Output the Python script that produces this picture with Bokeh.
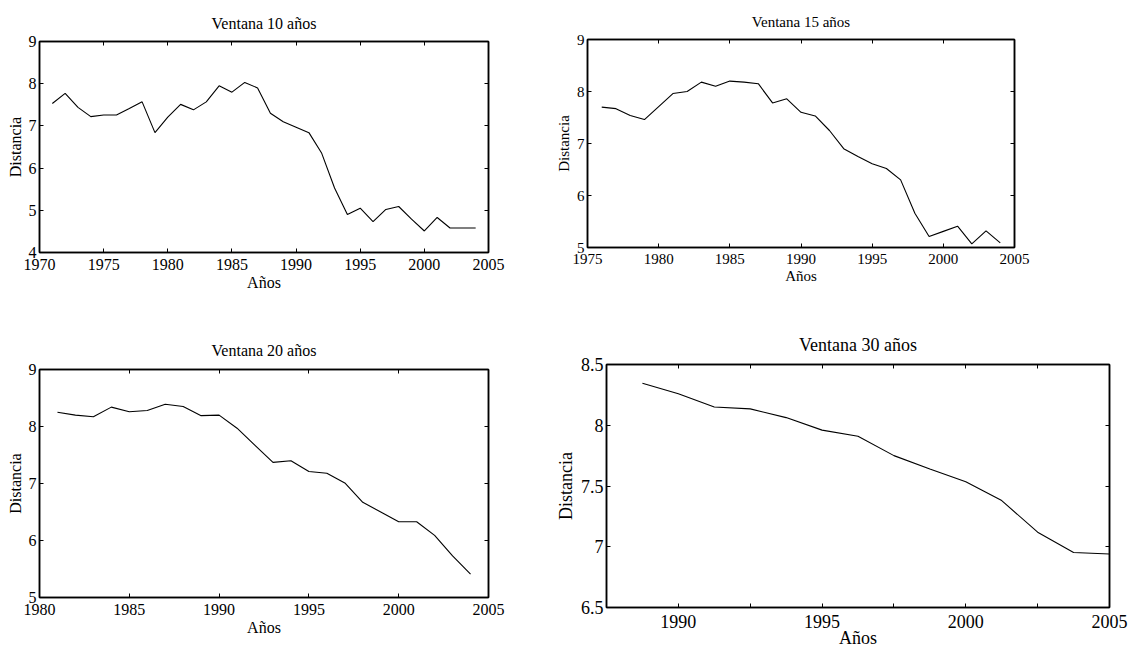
from bokeh.plotting import figure
from bokeh.models import Range1d, FixedTicker, LinearAxis, CustomJSTickFormatter
from bokeh.layouts import column, row
from bokeh.embed import file_html
from bokeh.resources import INLINE

# ---- data ----
years10 = list(range(1971, 2005))
dist10 = [7.53, 7.77, 7.44, 7.22, 7.26, 7.26, 7.41, 7.57, 6.84, 7.21, 7.51, 7.38,
          7.57, 7.95, 7.80, 8.03, 7.90, 7.30, 7.10, 6.97, 6.84, 6.35, 5.53, 4.90,
          5.05, 4.73, 5.02, 5.09, 4.79, 4.51, 4.83, 4.58, 4.58, 4.58]

years15 = list(range(1976, 2005))
dist15 = [7.70, 7.67, 7.54, 7.46, 7.71, 7.96, 8.00, 8.18, 8.10, 8.20, 8.18, 8.15,
          7.78, 7.86, 7.60, 7.53, 7.25, 6.90, 6.75, 6.61, 6.52, 6.30, 5.66, 5.21,
          5.31, 5.41, 5.07, 5.32, 5.09]

years20 = list(range(1981, 2005))
dist20 = [8.25, 8.20, 8.17, 8.34, 8.26, 8.28, 8.39, 8.35, 8.19, 8.20, 7.97, 7.67,
          7.37, 7.40, 7.21, 7.18, 7.01, 6.67, 6.50, 6.33, 6.33, 6.09, 5.73, 5.41]

years30 = [1988.75, 1990, 1991.25, 1992.5, 1993.75, 1995, 1996.25, 1997.5,
           1998.75, 2000, 2001.25, 2002.5, 2003.75, 2005]
dist30 = [8.345, 8.26, 8.15, 8.135, 8.063, 7.96, 7.91, 7.75, 7.64, 7.535,
          7.38, 7.12, 6.953, 6.94]

titles = ["Ventana 10 años", "Ventana 15 años", "Ventana 20 años", "Ventana 30 años"]
xlabel = "Años"
ylabel = "Distancia"

xt1 = [1970, 1975, 1980, 1985, 1990, 1995, 2000, 2005]
yt1 = [4, 5, 6, 7, 8, 9]
xt2 = [1975, 1980, 1985, 1990, 1995, 2000, 2005]
yt2 = [5, 6, 7, 8, 9]
xt3 = [1980, 1985, 1990, 1995, 2000, 2005]
yt3 = [5, 6, 7, 8, 9]
xt4 = [1990, 1995, 2000, 2005]
xt4_minor = [1987.5, 1992.5, 1997.5, 2002.5]
yt4 = [6.5, 7, 7.5, 8, 8.5]

FONT = "Liberation Serif"
fmt_code = "return String(Number(tick.toFixed(2)));"


def style_axis(ax, fs, show_labels=True, mstand=5, astand=0):
    ax.axis_line_color = "black"
    ax.axis_line_width = 1.5
    ax.major_tick_in = 4
    ax.major_tick_out = 0
    ax.minor_tick_in = 4
    ax.minor_tick_out = 0
    ax.major_tick_line_color = "black"
    ax.minor_tick_line_color = "black"
    ax.major_tick_line_width = 1
    ax.minor_tick_line_width = 1
    ax.major_label_text_font = FONT
    ax.major_label_text_font_style = "normal"
    ax.major_label_text_color = "black"
    ax.axis_label_text_font = FONT
    ax.axis_label_text_font_style = "normal"
    ax.axis_label_text_color = "black"
    ax.axis_label_text_font_size = f"{fs}px"
    if show_labels:
        ax.major_label_text_font_size = f"{fs}px"
        ax.major_label_standoff = mstand
        ax.axis_label_standoff = astand
    else:
        ax.major_label_text_font_size = "0px"
        ax.major_label_standoff = 0
        ax.major_label_text_alpha = 0


def make_panel(xs, ys, title, xr, yr, xt, yt, w, h, left, right, top, bottom,
               fs, tstand, xminor=None, mstand=5, astand=0):
    p = figure(width=w, height=h, output_backend="svg", toolbar_location=None,
               x_range=Range1d(*xr), y_range=Range1d(*yr),
               min_border_left=left, min_border_right=right,
               min_border_top=top, min_border_bottom=bottom,
               title=title)
    p.title.align = "center"
    p.title.text_font = FONT
    p.title.text_font_style = "normal"
    p.title.text_font_size = f"{fs}px"
    p.title.text_color = "black"
    p.title.standoff = tstand
    p.grid.visible = False
    p.outline_line_color = "black"
    p.outline_line_width = 1.5
    p.background_fill_color = "white"
    p.border_fill_color = "white"

    p.xaxis.ticker = FixedTicker(ticks=xt, minor_ticks=xminor or [])
    p.yaxis.ticker = FixedTicker(ticks=yt, minor_ticks=[])
    p.xaxis.formatter = CustomJSTickFormatter(code=fmt_code)
    p.yaxis.formatter = CustomJSTickFormatter(code=fmt_code)
    p.xaxis.axis_label = xlabel
    p.yaxis.axis_label = ylabel
    style_axis(p.xaxis[0], fs, mstand=mstand, astand=astand)
    style_axis(p.yaxis[0], fs, mstand=3, astand=2)

    top_ax = LinearAxis(ticker=FixedTicker(ticks=xt, minor_ticks=xminor or []))
    style_axis(top_ax, fs, show_labels=False)
    p.add_layout(top_ax, "above")
    right_ax = LinearAxis(ticker=FixedTicker(ticks=yt, minor_ticks=[]))
    style_axis(right_ax, fs, show_labels=False)
    p.add_layout(right_ax, "right")

    p.line(xs, ys, line_color="black", line_width=1.1)
    return p


p1 = make_panel(years10, dist10, titles[0], (1970, 2005), (4, 9), xt1, yt1,
                540, 310, 39, 52, 41, 58, 16, 19, mstand=6, astand=1)
p2 = make_panel(years15, dist15, titles[1], (1975, 2005), (5, 9), xt2, yt2,
                590, 310, 47, 116, 39, 63, 15, 19, mstand=6, astand=1)
p3 = make_panel(years20, dist20, titles[2], (1980, 2005), (5, 9), xt3, yt3,
                540, 336, 39, 52, 59, 49, 16, 21, mstand=6, astand=1)
p4 = make_panel(years30, dist30, titles[3], (1987.5, 2005), (6.5, 8.5), xt4, yt4,
                590, 343, 66, 21, 54, 46, 18, 19, xminor=xt4_minor, mstand=7, astand=-3)

layout = column(row(column(p1), column(p2)), row(column(p3), column(p4)))
open("out.html", "w").write(file_html(layout, INLINE))
